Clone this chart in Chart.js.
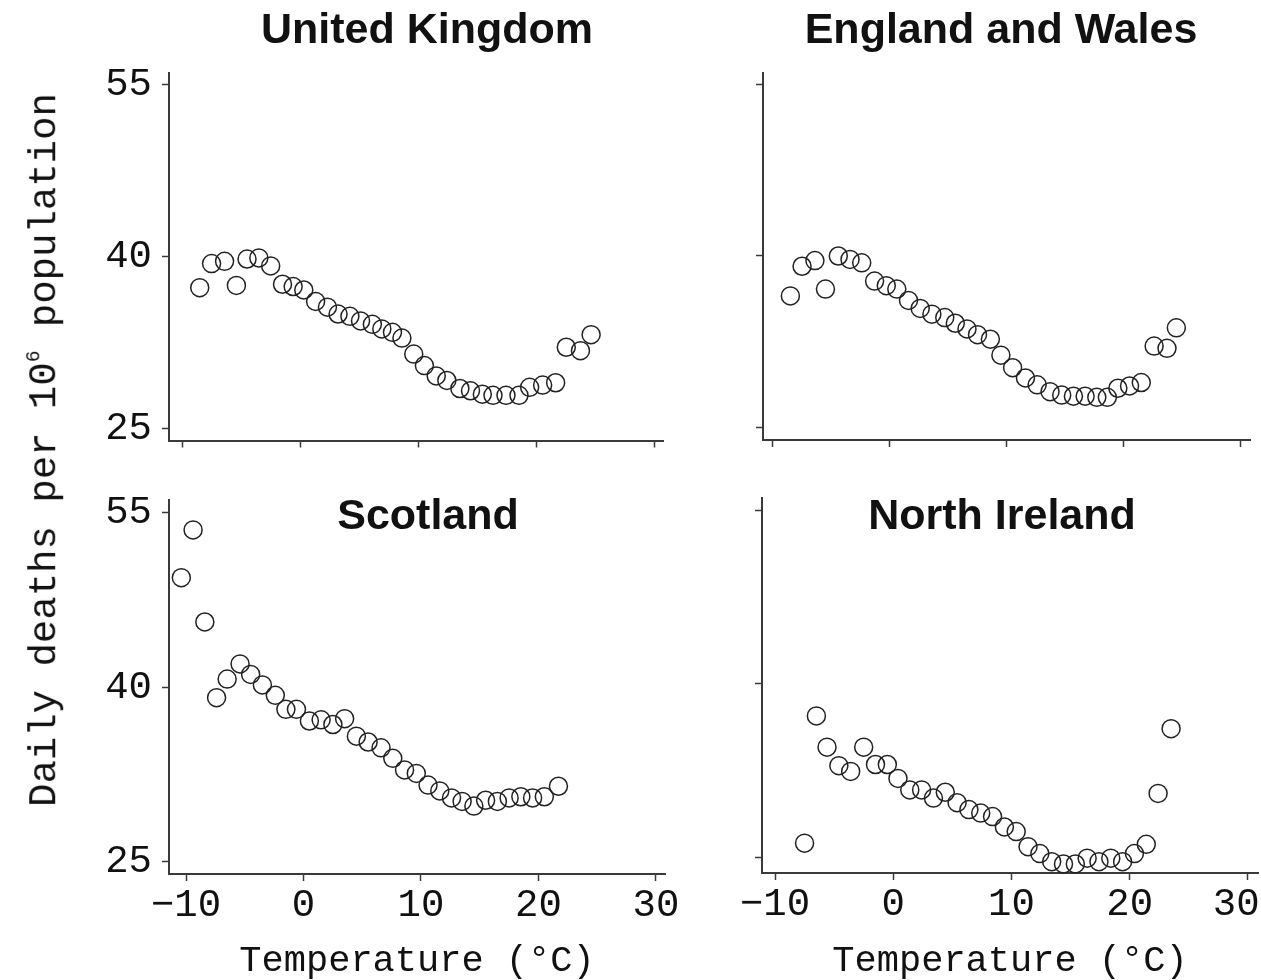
<!DOCTYPE html>
<html>
<head>
<meta charset="utf-8">
<script src="https://cdn.jsdelivr.net/npm/chart.js@4.4.1/dist/chart.umd.min.js"></script>
<style>
  html, body { margin: 0; padding: 0; background: #fff; width: 1261px; height: 980px; overflow: hidden; }
  canvas { position: absolute; }
  #ylab {
    position: absolute; left: 45px; top: 450px;
    transform: translate(-50%, -50%) rotate(-90deg);
    font-family: "Liberation Mono", "DejaVu Sans Mono", monospace;
    font-size: 39px; color: #111; white-space: nowrap; line-height: 1;
  }
  #ylab sup { font-size: 0.5em; vertical-align: 0.8em; }
</style>
</head>
<body>
<canvas id="pUK" width="690" height="470" style="left:0;top:0"></canvas>
<canvas id="pEW" width="571" height="470" style="left:690px;top:0"></canvas>
<canvas id="pSC" width="690" height="510" style="left:0;top:470px"></canvas>
<canvas id="pNI" width="600" height="510" style="left:690px;top:470px"></canvas>
<div id="ylab">Daily deaths per 10<sup>6</sup> population</div>

<script>
// Axis ticks and panel names
const tempTicks = [-10, 0, 10, 20, 30];
const deathTicks = [25, 40, 55];
const panelTitles = ['United Kingdom', 'England and Wales', 'Scotland', 'North Ireland'];
const xAxisTitle = 'Temperature (°C)';

// United Kingdom
const ukTemp   = [-8.5, -7.5, -6.4, -5.4, -4.5, -3.5, -2.5, -1.5, -0.6, 0.3, 1.3, 2.3, 3.2, 4.2, 5.1, 6.1, 6.9, 7.8, 8.6, 9.6,
                  10.5, 11.5, 12.4, 13.5, 14.4, 15.4, 16.3, 17.4, 18.5, 19.4, 20.5, 21.6, 22.5, 23.7, 24.6];
const ukDeaths = [37.3, 39.4, 39.6, 37.5, 39.8, 39.9, 39.2, 37.6, 37.4, 37.1, 36.1, 35.6, 35.0, 34.8, 34.4, 34.1, 33.7, 33.4, 32.9, 31.5,
                  30.5, 29.6, 29.2, 28.5, 28.3, 28.0, 27.9, 27.9, 27.9, 28.6, 28.8, 29.0, 32.1, 31.8, 33.2];

// England and Wales
const ewTemp   = [-8.5, -7.5, -6.4, -5.5, -4.4, -3.4, -2.4, -1.3, -0.3, 0.6, 1.6, 2.6, 3.6, 4.7, 5.6, 6.6, 7.5, 8.6, 9.5,
                  10.5, 11.6, 12.6, 13.7, 14.7, 15.7, 16.7, 17.7, 18.6, 19.5, 20.5, 21.5, 22.6, 23.7, 24.5];
const ewDeaths = [36.5, 39.1, 39.6, 37.1, 40.0, 39.7, 39.4, 37.8, 37.4, 37.1, 36.1, 35.4, 34.9, 34.6, 34.1, 33.6, 33.1, 32.7, 31.3,
                  30.2, 29.3, 28.7, 28.1, 27.8, 27.7, 27.7, 27.6, 27.6, 28.4, 28.6, 28.9, 32.1, 31.9, 33.7];

// Scotland
const scTemp   = [-10.4, -9.4, -8.4, -7.4, -6.5, -5.4, -4.5, -3.5, -2.4, -1.5, -0.6, 0.5, 1.5, 2.5, 3.5, 4.5, 5.5, 6.6, 7.6, 8.6, 9.6,
                  10.6, 11.6, 12.6, 13.5, 14.5, 15.5, 16.5, 17.5, 18.5, 19.5, 20.5, 21.7];
const scDeaths = [49.4, 53.5, 45.6, 39.1, 40.7, 42.0, 41.1, 40.2, 39.3, 38.1, 38.1, 37.1, 37.2, 36.8, 37.3, 35.8, 35.3, 34.8, 33.9, 32.9, 32.6,
                  31.6, 31.1, 30.5, 30.2, 29.8, 30.3, 30.2, 30.5, 30.6, 30.5, 30.6, 31.5];

// North Ireland
const niTemp   = [-7.5, -6.5, -5.6, -4.6, -3.6, -2.5, -1.5, -0.5, 0.4, 1.4, 2.4, 3.4, 4.4, 5.4, 6.4, 7.4, 8.4, 9.4,
                  10.4, 11.4, 12.4, 13.4, 14.4, 15.4, 16.4, 17.4, 18.4, 19.4, 20.4, 21.4, 22.4, 23.5];
const niDeaths = [26.2, 37.2, 34.5, 32.9, 32.4, 34.5, 33.0, 33.0, 31.8, 30.8, 30.8, 30.1, 30.6, 29.7, 29.1, 28.8, 28.5, 27.6,
                  27.2, 25.9, 25.3, 24.6, 24.4, 24.4, 24.9, 24.6, 24.9, 24.6, 25.3, 26.1, 30.5, 36.1];

const INK = '#111';
const AXIS = '#3a3a3a';
const MONO = '"Liberation Mono", "DejaVu Sans Mono", monospace';

// Panel heading drawn on the canvas
const panelTitle = {
  id: 'panelTitle',
  afterDraw(chart, args, o) {
    if (!o || !o.text) return;
    const ctx = chart.ctx;
    ctx.save();
    ctx.font = 'bold 43px "Liberation Sans", Arial, sans-serif';
    ctx.fillStyle = INK;
    ctx.textAlign = 'center';
    ctx.textBaseline = 'middle';
    ctx.fillText(o.text, o.x, o.y);
    ctx.restore();
  }
};

const tempLabel = (v) => (v < 0 ? '\u2212' + Math.abs(v) : String(v));

function makePanel(id, temps, deaths, p) {
  const points = temps.map((t, i) => ({ x: t, y: deaths[i] }));
  return new Chart(document.getElementById(id), {
    type: 'scatter',
    data: {
      datasets: [{
        data: points,
        pointStyle: 'circle',
        pointRadius: 9,
        pointHoverRadius: 9,
        pointBorderWidth: 1.5,
        pointBorderColor: '#222',
        pointBackgroundColor: 'rgba(0,0,0,0)',
        showLine: false,
        clip: false
      }]
    },
    options: {
      responsive: false,
      animation: false,
      events: [],
      layout: { padding: { top: p.padTop, right: p.padRight, left: 0, bottom: 0 } },
      plugins: {
        legend: { display: false },
        tooltip: { enabled: false },
        panelTitle: { text: p.title, x: p.titleX, y: p.titleY }
      },
      scales: {
        x: {
          type: 'linear',
          min: p.xMin, max: p.xMax,
          afterBuildTicks: (ax) => { ax.ticks = tempTicks.map(v => ({ value: v })); },
          afterFit: (ax) => { ax.height = p.xAxisH; },
          border: { display: true, color: AXIS, width: 2 },
          grid: { display: true, drawOnChartArea: false, drawTicks: true, tickLength: 7,
                  color: AXIS, tickColor: AXIS, tickWidth: 1.5 },
          ticks: {
            display: p.xLabels, autoSkip: false, maxRotation: 0, padding: 5,
            color: INK, font: { family: MONO, size: 39, lineHeight: 1 },
            callback: (v, i, ticks) => tempLabel(v) + (p.lastPad && i === ticks.length - 1 ? '\u00a0' : '')
          },
          title: {
            display: p.xLabels, text: xAxisTitle, color: INK, padding: 0,
            font: { family: MONO, size: 37, lineHeight: 1 }
          }
        },
        y: {
          type: 'linear',
          min: p.yMin, max: p.yMax,
          afterBuildTicks: (ax) => { ax.ticks = deathTicks.map(v => ({ value: v })); },
          afterFit: (ax) => { ax.width = p.yAxisW; },
          border: { display: true, color: AXIS, width: 2 },
          grid: { display: true, drawOnChartArea: false, drawTicks: true, tickLength: 7,
                  color: AXIS, tickColor: AXIS, tickWidth: 1.5 },
          ticks: {
            display: p.yLabels, padding: 10,
            color: INK, font: { family: MONO, size: 39, lineHeight: 1 }
          }
        }
      }
    },
    plugins: [panelTitle]
  });
}

makePanel('pUK', ukTemp, ukDeaths, {
  title: panelTitles[0], titleX: 427, titleY: 31,
  padTop: 73, padRight: 27, yAxisW: 169, xAxisH: 28,
  xMin: -11.1, xMax: 30.68, yMin: 23.96, yMax: 56.04,
  xLabels: false, yLabels: true
});
makePanel('pEW', ewTemp, ewDeaths, {
  title: panelTitles[1], titleX: 311, titleY: 31,
  padTop: 73, padRight: 3, yAxisW: 73, xAxisH: 30,
  xMin: -10.84, xMax: 30.84, yMin: 23.86, yMax: 56.05,
  xLabels: false, yLabels: false
});
makePanel('pSC', scTemp, scDeaths, {
  title: panelTitles[2], titleX: 428, titleY: 47,
  padTop: 28, padRight: 25, yAxisW: 169, xAxisH: 106,
  xMin: -11.45, xMax: 30.77, yMin: 23.97, yMax: 56.11,
  xLabels: true, yLabels: true
});
makePanel('pNI', niTemp, niDeaths, {
  title: panelTitles[3], titleX: 312, titleY: 47,
  padTop: 28, padRight: 32, yAxisW: 72, xAxisH: 107,
  xMin: -11.1, xMax: 30.85, yMin: 23.62, yMax: 56.04,
  xLabels: true, yLabels: false, lastPad: true
});
</script>
</body>
</html>
